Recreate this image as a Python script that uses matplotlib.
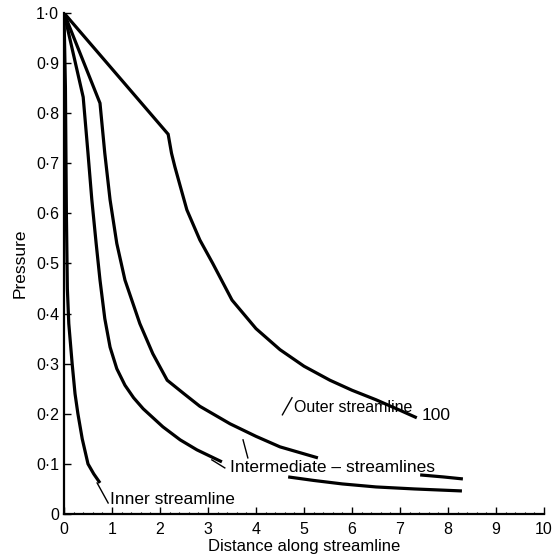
import matplotlib.pyplot as plt
from matplotlib.ticker import MultipleLocator, FixedLocator

# curves (distance, pressure)
outer_x = [0, 2.17, 2.24, 2.31, 2.42, 2.56, 2.83, 3.1, 3.5, 4.0, 4.5, 5.0, 5.54, 6.0, 6.5, 7.0, 7.35]
outer_y = [1.0, 0.758, 0.72, 0.693, 0.655, 0.607, 0.547, 0.50, 0.427, 0.37, 0.328, 0.295, 0.267, 0.247, 0.228, 0.207, 0.192]

mid1_x = [0, 0.4, 0.5, 0.58, 0.67, 0.75, 0.85, 0.96, 1.1, 1.27, 1.45, 1.65, 2.06, 2.42, 2.77, 3.29]
mid1_y = [1.0, 0.832, 0.72, 0.627, 0.54, 0.467, 0.39, 0.333, 0.29, 0.257, 0.232, 0.21, 0.174, 0.148, 0.128, 0.104]

mid2_x = [0, 0.75, 0.85, 0.96, 1.1, 1.27, 1.58, 1.85, 2.15, 2.5, 2.83, 3.46, 4.0, 4.5, 5.29]
mid2_y = [1.0, 0.82, 0.72, 0.627, 0.54, 0.467, 0.38, 0.32, 0.267, 0.24, 0.215, 0.18, 0.155, 0.134, 0.112]

inner_x = [0, 0.03, 0.05, 0.07, 0.1, 0.17, 0.23, 0.29, 0.38, 0.5, 0.62, 0.75]
inner_y = [1.0, 0.85, 0.6, 0.45, 0.38, 0.3, 0.24, 0.2, 0.15, 0.1, 0.08, 0.062]

low1_x = [4.67, 5.2, 5.8, 6.5, 7.3, 8.29]
low1_y = [0.074, 0.067, 0.06, 0.054, 0.05, 0.046]

low2_x = [7.42, 7.9, 8.31]
low2_y = [0.078, 0.074, 0.07]

y_ticks = [0, 0.1, 0.2, 0.3, 0.4, 0.5, 0.6, 0.7, 0.8, 0.9, 1.0]
y_labels = ["0", "0·1", "0·2", "0·3", "0·4", "0·5", "0·6", "0·7", "0·8", "0·9", "1·0"]
x_ticks = list(range(0, 11))

plt.rcParams["font.family"] = ["Liberation Sans", "DejaVu Sans"]

fig = plt.figure(figsize=(5.55, 5.57), dpi=100)
ax = fig.add_axes([0.1153, 0.0772, 0.8649, 0.8995])

lw = 2.3
for xs, ys in [(outer_x, outer_y), (mid1_x, mid1_y), (mid2_x, mid2_y),
               (inner_x, inner_y), (low1_x, low1_y), (low2_x, low2_y)]:
    ax.plot(xs, ys, color="black", lw=lw, solid_capstyle="butt", solid_joinstyle="miter")

ax.set_xlim(0, 10)
ax.set_ylim(0, 1.0)
ax.spines["top"].set_visible(False)
ax.spines["right"].set_visible(False)
ax.spines["left"].set_linewidth(1.6)
ax.spines["bottom"].set_linewidth(1.6)

ax.xaxis.set_major_locator(FixedLocator(x_ticks))
ax.xaxis.set_minor_locator(MultipleLocator(0.2))
ax.set_yticks(y_ticks)
ax.set_yticklabels(y_labels)
ax.tick_params(axis="both", direction="in", length=5, width=1, labelsize=11.5)
ax.tick_params(axis="x", which="minor", direction="in", length=1.5, width=0.8)
ax.tick_params(axis="x", pad=6)

ax.set_xlabel("Distance along streamline", fontsize=12, labelpad=1)
ax.set_ylabel("Pressure", fontsize=12.5, labelpad=6)

# labels and leader lines
kw = dict(color="black", lw=1.0)
fs = 12.5
ax.text(0.96, 0.028, "Inner streamline", fontsize=fs, va="center")
ax.plot([0.69, 0.92], [0.062, 0.022], **kw)
ax.text(3.46, 0.092, "Intermediate – streamlines", fontsize=fs, va="center")
ax.plot([3.08, 3.35], [0.108, 0.092], **kw)
ax.plot([3.73, 3.83], [0.148, 0.112], **kw)
ax.text(4.8, 0.212, "Outer streamline", fontsize=11.5, va="center")
ax.plot([4.55, 4.75], [0.198, 0.232], **kw)
ax.text(7.44, 0.196, "100", fontsize=fs, va="center")

fig.savefig("out.png", dpi=100)
